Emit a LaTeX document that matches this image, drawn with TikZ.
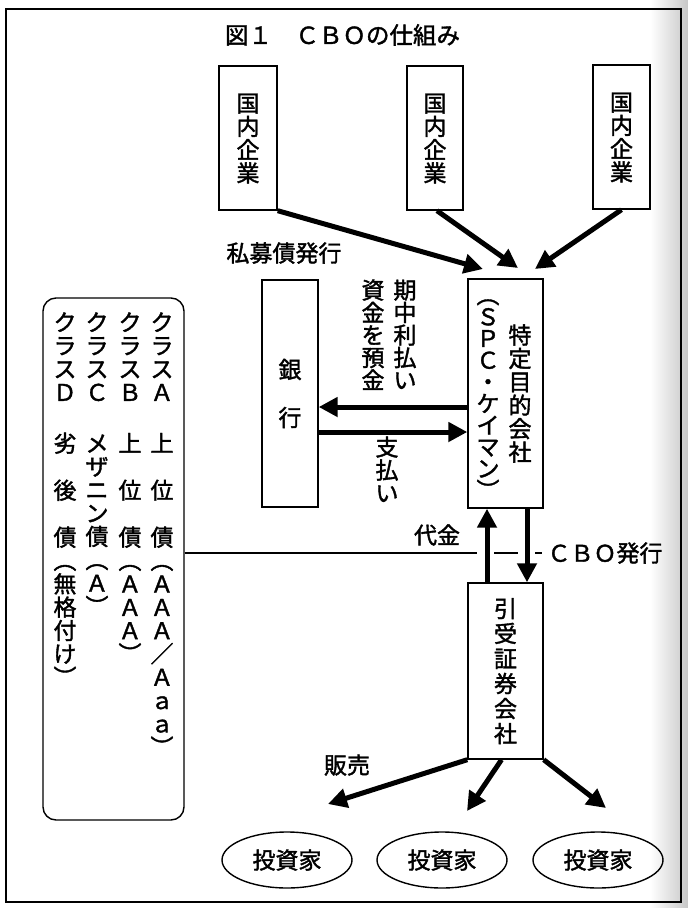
\documentclass[tikz,border=0pt]{standalone}
\usepackage{fontspec}
\setmainfont{Noto Sans CJK JP}[UprightFeatures={FakeBold=1.6}]
\usetikzlibrary{arrows.meta,calc,shapes.geometric}
\newcommand\cjkst{\rule[-0.12em]{0pt}{1em}}
\begin{document}
\begin{tikzpicture}[x=1pt,y=-1pt,
  box/.style={draw, line width=1.4pt, inner sep=0pt, align=center},
  vtxt/.style={inner sep=0pt, align=center, font={\fontsize{23pt}{#1}\selectfont\lineskiplimit=-\maxdimen}},
  vtxt/.default=23.3pt,
  lbl/.style={inner sep=0pt, font=\fontsize{23pt}{27pt}\selectfont},
  arr/.style={line width=5pt, -{Triangle[length=19pt,width=19pt]}},
  inv/.style={draw, ellipse, line width=1.4pt, minimum width=130pt, minimum height=56pt, inner sep=0pt, font=\fontsize{23pt}{27pt}\selectfont}
]
\shade[left color=white, right color=black!22] (650,0) rectangle (688,908);
\useasboundingbox (0,0) rectangle (688,908);
\draw[line width=1.7pt] (6,9) rectangle (681,902);

% title
\node[lbl, font=\fontsize{23.5pt}{27pt}\selectfont] (title) at (342.5,35) {\cjkst 図１　ＣＢＯの仕組み};

% domestic companies
\node[box, vtxt, minimum width=58pt, minimum height=144pt] (co1) at (248,138) {\cjkst 国\\内\\企\\\cjkst 業};
\node[box, vtxt, minimum width=56pt, minimum height=144pt] (co2) at (435,138) {\cjkst 国\\内\\企\\\cjkst 業};
\node[box, vtxt, minimum width=57pt, minimum height=144pt] (co3) at (621.5,137) {\cjkst 国\\内\\企\\\cjkst 業};

\node[lbl] (shibo) at (284,253) {\cjkst 私募債発行};

% SPC
\node[box, minimum width=75pt, minimum height=229pt] (spc) at (505.5,393.5) {};
\node[vtxt=23.4pt] (spcname) at (520,393.5) {\cjkst 特\\定\\目\\的\\会\\\cjkst 社};
\node[vtxt=21.7pt] (spcsub) at (488,392.5) {\cjkst ︵\\Ｓ\\Ｐ\\Ｃ\\・\\ケ\\イ\\マ\\ン\\\cjkst ︶};

\coordinate (t1) at (483,269);
\coordinate (t2) at (518,268);
\coordinate (t3) at (535,269);
\draw[arr] (co1.south east) -- (t1);
\draw[arr] ([xshift=2pt]co2.south) -- (t2);
\draw[arr] (co3.south) -- (t3);

% bank
\node[box, vtxt=48pt, minimum width=56pt, minimum height=227pt] (bank) at (290,393.5) {\cjkst 銀\\\cjkst 行};
\node[vtxt=22.5pt] (kichu) at (405,335) {\cjkst 期\\中\\利\\払\\\cjkst い};
\node[vtxt=22.5pt] (shikin) at (373,335) {\cjkst 資\\金\\を\\預\\\cjkst 金};
\draw[arr] ([yshift=-13.5pt]spc.west) -- ([yshift=-13.5pt]bank.east);
\draw[arr] ([yshift=-38.5pt]bank.east) -- ([yshift=-38.5pt]spc.west);
\node[vtxt=23pt] (shiharai) at (387,470) {\cjkst 支\\払\\\cjkst い};

% underwriter
\node[box, vtxt=25pt, minimum width=75pt, minimum height=176pt] (uw) at (505.5,671) {\cjkst 引\\受\\証\\券\\会\\\cjkst 社};

% left box
\node[draw, rounded corners=13pt, line width=1.4pt, minimum width=141pt, minimum height=522pt] (lb) at (113.5,559) {};
\node[vtxt, anchor=north] (cA) at (162,310.5) {\cjkst ク\\ラ\\ス\\Ａ\\[27.8pt]上\\[23.7pt]位\\[23.7pt]債\\︵\\Ａ\\Ａ\\Ａ\\／\\Ａ\\ａ\\ａ\\\cjkst ︶};
\node[vtxt, anchor=north] (cB) at (130,310.5) {\cjkst ク\\ラ\\ス\\Ｂ\\[27.8pt]上\\[23.7pt]位\\[23.7pt]債\\︵\\Ａ\\Ａ\\Ａ\\\cjkst ︶};
\node[vtxt, anchor=north] (cC) at (97,310.5) {\cjkst ク\\ラ\\ス\\Ｃ\\[27.8pt]メ\\ザ\\ニ\\ン\\債\\︵\\Ａ\\\cjkst ︶};
\node[vtxt, anchor=north] (cD) at (65,310.5) {\cjkst ク\\ラ\\ス\\Ｄ\\[27.8pt]劣\\[23.7pt]後\\[23.7pt]債\\︵\\無\\格\\付\\け\\\cjkst ︶};

% CBO issue line
\node[lbl, inner sep=5pt] (cbo) at (605,553) {\cjkst ＣＢＯ発行};
\draw[line width=1.3pt] ([yshift=6pt]lb.east) -- (cbo.west);
\fill[white] (477,549) rectangle (494,557);
\fill[white] (518,549) rectangle (535,557);
\draw[arr] ([xshift=-18.5pt]uw.north) -- ([xshift=-18.5pt]spc.south);
\draw[arr] ([xshift=21.5pt]spc.south) -- ([xshift=21.5pt]uw.north);
\node[lbl] (daikin) at (437,535) {\cjkst 代金};

% investors
\node[inv] (inv1) at (287,860) {\cjkst 投資家};
\node[inv] (inv2) at (442,860) {\cjkst 投資家};
\node[inv] (inv3) at (598,860) {\cjkst 投資家};
\coordinate (s1) at (328,804);
\coordinate (s2) at (467,811);
\coordinate (s3) at (606,808);
\draw[arr] (uw.south west) -- (s1);
\draw[arr] ([xshift=-4pt]uw.south) -- (s2);
\draw[arr] (uw.south east) -- (s3);
\node[lbl] (hanbai) at (347,765) {\cjkst 販売};
\end{tikzpicture}
\end{document}
